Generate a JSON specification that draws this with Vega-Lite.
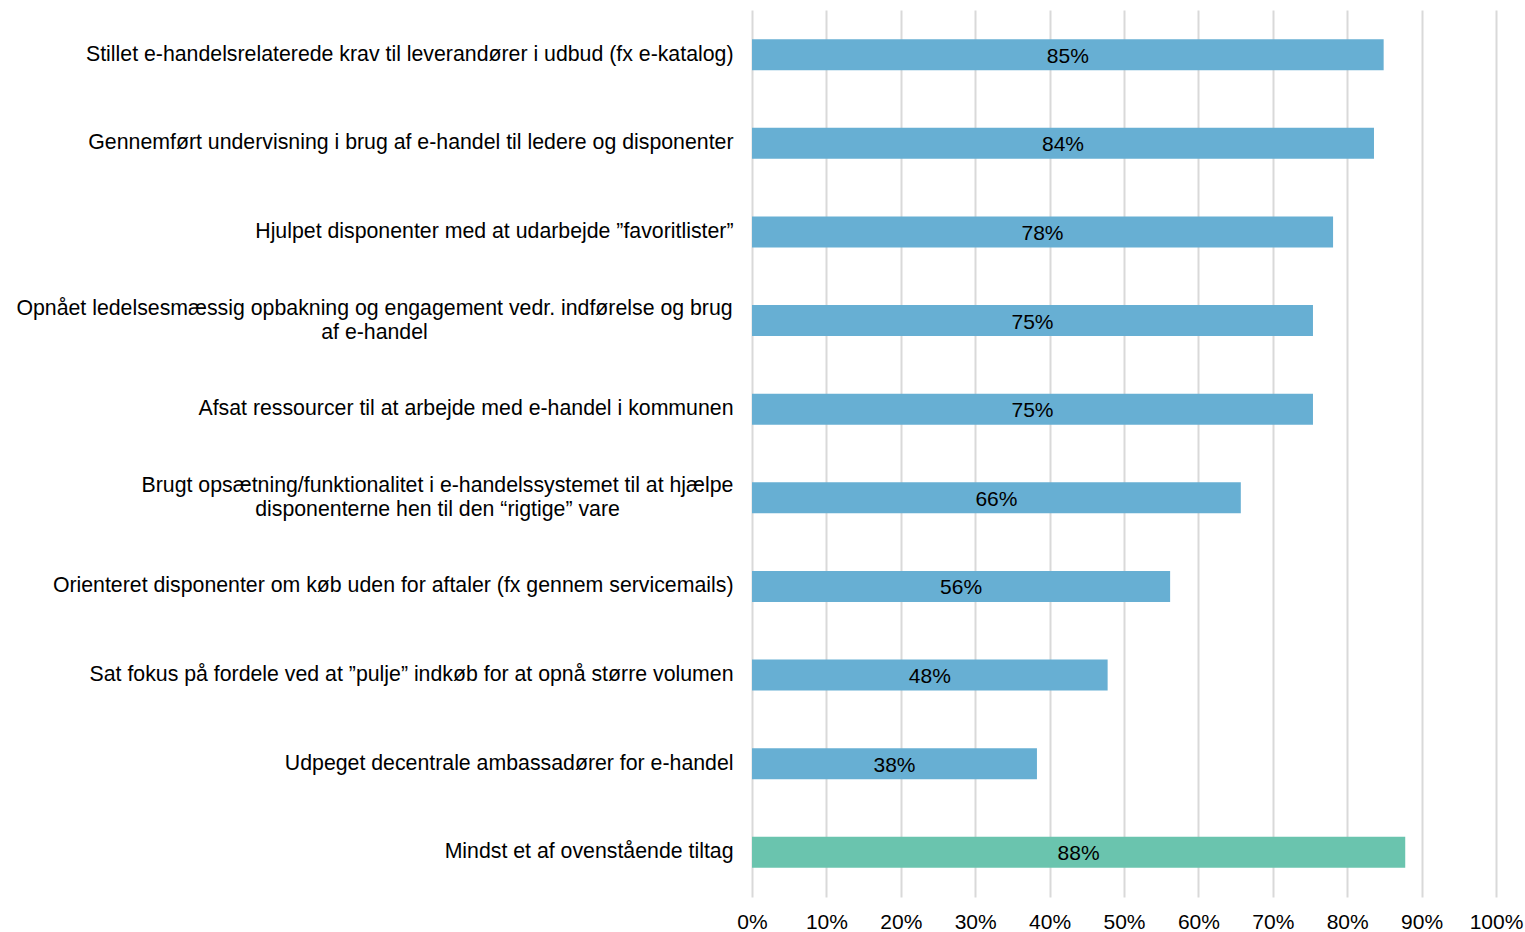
{
  "$schema": "https://vega.github.io/schema/vega-lite/v6.json",
  "autosize": {"type": "none"},
  "width": 744,
  "height": 887,
  "padding": {"left": 752, "top": 10, "right": 29, "bottom": 35},
  "background": "white",
  "config": {"view": {"stroke": null}, "font": "Liberation Sans"},
  "data": {
    "values": [
      {"order": 1, "label": "Stillet e-handelsrelaterede krav til leverandører i udbud (fx e-katalog)", "value": 0.849, "group": "tiltag"},
      {"order": 2, "label": "Gennemført undervisning i brug af e-handel til ledere og disponenter", "value": 0.836, "group": "tiltag"},
      {"order": 3, "label": "Hjulpet disponenter med at udarbejde ”favoritlister”", "value": 0.781, "group": "tiltag"},
      {"order": 4, "label": "Opnået ledelsesmæssig opbakning og engagement vedr. indførelse og brug|af e-handel", "value": 0.754, "group": "tiltag"},
      {"order": 5, "label": "Afsat ressourcer til at arbejde med e-handel i kommunen", "value": 0.754, "group": "tiltag"},
      {"order": 6, "label": "Brugt opsætning/funktionalitet i e-handelssystemet til at hjælpe|disponenterne hen til den “rigtige” vare", "value": 0.657, "group": "tiltag"},
      {"order": 7, "label": "Orienteret disponenter om køb uden for aftaler (fx gennem servicemails)", "value": 0.562, "group": "tiltag"},
      {"order": 8, "label": "Sat fokus på fordele ved at ”pulje” indkøb for at opnå større volumen", "value": 0.478, "group": "tiltag"},
      {"order": 9, "label": "Udpeget decentrale ambassadører for e-handel", "value": 0.383, "group": "tiltag"},
      {"order": 10, "label": "Mindst et af ovenstående tiltag", "value": 0.878, "group": "samlet"}
    ]
  },
  "encoding": {
    "y": {
      "field": "label",
      "type": "nominal",
      "sort": {"field": "order", "op": "min", "order": "ascending"},
      "scale": {"paddingInner": 0.65, "paddingOuter": 0.33},
      "axis": {
        "title": null,
        "domain": false,
        "ticks": false,
        "labelExpr": "split(datum.label, '|')",
        "labelFont": "Liberation Sans",
        "labelFontSize": 21.3,
        "labelColor": "#000000",
        "labelLimit": 900,
        "labelLineHeight": 24,
        "labelAlign": {"condition": {"test": "indexof(datum.value, '|') >= 0", "value": "center"}, "value": "right"},
        "labelOffset": {"condition": {"test": "indexof(datum.value, '|') >= 0", "value": -12}, "value": 0},
        "labelPadding": {"condition": [
          {"test": "indexof(datum.value, 'Opnået') == 0", "value": 378},
          {"test": "indexof(datum.value, 'Brugt') == 0", "value": 315}
        ], "value": 19}
      }
    }
  },
  "resolve": {"scale": {"x": "independent"}},
  "layer": [
    {
      "mark": {"type": "bar"},
      "encoding": {
        "x": {
          "field": "value",
          "type": "quantitative",
          "scale": {"domain": [0, 1], "nice": false},
          "axis": {
            "title": null,
            "format": ".0%",
            "values": [0, 0.1, 0.2, 0.3, 0.4, 0.5, 0.6, 0.7, 0.8, 0.9, 1],
            "domain": false,
            "ticks": false,
            "grid": true,
            "gridColor": "#d9d9d9",
            "gridWidth": 2,
            "labelFlush": false,
            "labelFont": "Liberation Sans",
            "labelFontSize": 21,
            "labelColor": "#000000",
            "labelPadding": 14
          }
        },
        "color": {
          "field": "group",
          "type": "nominal",
          "scale": {"domain": ["tiltag", "samlet"], "range": ["#67AFD3", "#6AC4AE"]},
          "legend": null
        }
      }
    },
    {
      "mark": {"type": "text", "font": "Liberation Sans", "fontSize": 21, "color": "#000000", "align": "center", "baseline": "middle", "dy": 2},
      "encoding": {
        "x": {"field": "value", "type": "quantitative", "scale": {"domain": [0, 2], "nice": false}, "axis": null},
        "text": {"field": "value", "type": "quantitative", "format": ".0%"}
      }
    }
  ]
}
